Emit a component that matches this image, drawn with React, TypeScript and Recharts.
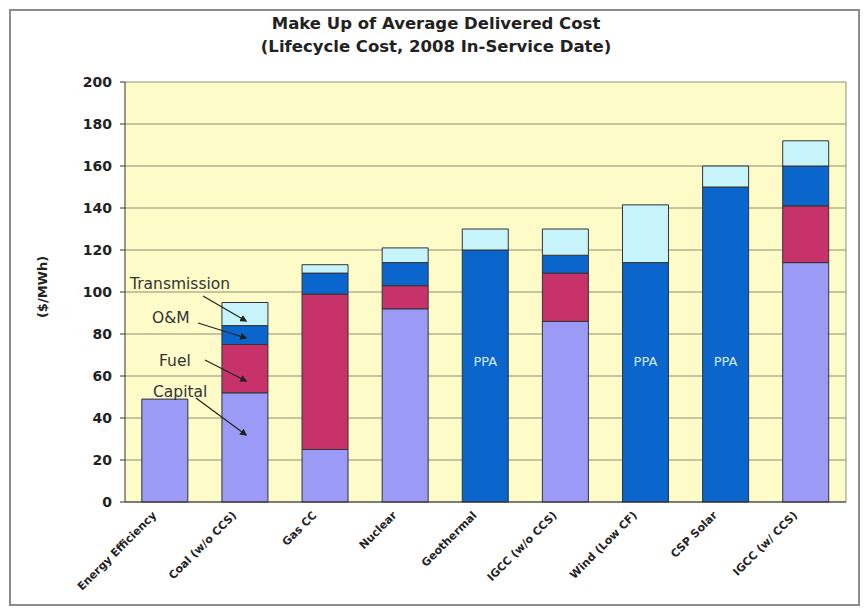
import React from "react"
import { BarChart, Bar, XAxis, YAxis, CartesianGrid, LabelList } from "recharts"

const categories = [
  "Energy Efficiency",
  "Coal (w/o CCS)",
  "Gas CC",
  "Nuclear",
  "Geothermal",
  "IGCC (w/o CCS)",
  "Wind (Low CF)",
  "CSP Solar",
  "IGCC (w/ CCS)",
]

// $/MWh components, stacked bottom to top
const capital = [49, 52, 25, 92, null, 86, null, null, 114]
const fuel = [null, 23, 74, 11, null, 23, null, null, 27]
const om = [null, 9, 10, 11, null, 8.5, null, null, 19]
const ppa = [null, null, null, null, 120, null, 114, 150, null]
const transmission = [null, 11, 4, 7, 10, 12.5, 27.5, 10, 12]

const yTicks = [0, 20, 40, 60, 80, 100, 120, 140, 160, 180, 200]

const data = categories.map((name, i) => ({
  name,
  capital: capital[i],
  fuel: fuel[i],
  om: om[i],
  ppa: ppa[i],
  transmission: transmission[i],
}))

const FONT = "'DejaVu Sans', Arial, sans-serif"

const XTick = (props: any) => {
  const { x, y, payload } = props
  const tx = x - 8
  const ty = y + 6
  return (
    <text
      x={tx}
      y={ty}
      transform={`rotate(-45, ${tx}, ${ty})`}
      textAnchor="end"
      fontSize={11}
      fontWeight="bold"
      fontFamily={FONT}
      fill="#222"
    >
      {payload.value}
    </text>
  )
}

const PpaLabel = (props: any) => {
  const { x, y, width, height } = props
  if (!height) return null
  return (
    <text
      x={x + width / 2}
      y={y + height - 136}
      textAnchor="middle"
      fontSize={13}
      fontFamily={FONT}
      fill="#d6ecff"
    >
      PPA
    </text>
  )
}

// callouts pointing at the segments of the coal bar
const callouts = [
  { text: "Transmission", tx: 130, ty: 289, x1: 203, y1: 296, x2: 246, y2: 321 },
  { text: "O&M", tx: 152, ty: 323, x1: 198, y1: 323, x2: 246, y2: 338 },
  { text: "Fuel", tx: 159, ty: 366, x1: 205, y1: 360, x2: 246, y2: 381 },
  { text: "Capital", tx: 153, ty: 397, x1: 196, y1: 398, x2: 246, y2: 435 },
]

export default function App() {
  return (
    <div style={{ position: "relative", width: 866, height: 608, background: "#fff", fontFamily: FONT }}>
      <style>{`body{margin:0}`}</style>
      <div
        style={{
          position: "absolute",
          left: 9,
          top: 9,
          width: 847,
          height: 593,
          border: "2px solid #8c8c8c",
        }}
      />
      <div
        style={{
          position: "absolute",
          left: 0,
          width: 872,
          top: 12,
          textAlign: "center",
          fontWeight: "bold",
          fontSize: 16.5,
          lineHeight: "23px",
          color: "#222",
        }}
      >
        <div>Make Up of Average Delivered Cost</div>
        <div>(Lifecycle Cost, 2008 In-Service Date)</div>
      </div>
      <div
        style={{
          position: "absolute",
          left: 42,
          top: 287,
          transform: "translate(-50%, -50%) rotate(-90deg)",
          fontWeight: "bold",
          fontSize: 13,
          color: "#222",
          whiteSpace: "nowrap",
        }}
      >
        ($/MWh)
      </div>
      <div style={{ position: "absolute", left: 0, top: 0 }}>
        <BarChart
          width={866}
          height={608}
          data={data}
          margin={{ top: 82, right: 20, bottom: 0, left: 65 }}
          barCategoryGap="21%"
        >
          <CartesianGrid
            fill="#fdfbc8"
            stroke="#8f8f78"
            vertical={true}
            verticalCoordinatesGenerator={({ offset }: any) => [offset.left + offset.width]}
          />
          <XAxis
            dataKey="name"
            tick={<XTick />}
            tickLine={false}
            axisLine={{ stroke: "#333" }}
            interval={0}
            height={106}
          />
          <YAxis
            domain={[0, 200]}
            ticks={yTicks}
            width={60}
            tickSize={5}
            tickMargin={8}
            axisLine={{ stroke: "#333" }}
            tickLine={{ stroke: "#333" }}
            tick={{ fontSize: 14, fontWeight: "bold", fontFamily: FONT, fill: "#222" }}
          />
          <Bar dataKey="capital" stackId="a" fill="#9b9bf7" stroke="#333" strokeWidth={1} isAnimationActive={false} />
          <Bar dataKey="fuel" stackId="a" fill="#c8326a" stroke="#333" strokeWidth={1} isAnimationActive={false} />
          <Bar dataKey="om" stackId="a" fill="#0a66cc" stroke="#333" strokeWidth={1} isAnimationActive={false} />
          <Bar dataKey="ppa" stackId="a" fill="#0a66cc" stroke="#333" strokeWidth={1} isAnimationActive={false}>
            <LabelList dataKey="ppa" content={<PpaLabel />} />
          </Bar>
          <Bar dataKey="transmission" stackId="a" fill="#c6f4fa" stroke="#333" strokeWidth={1} isAnimationActive={false} />
        </BarChart>
      </div>
      <svg
        width={866}
        height={608}
        style={{ position: "absolute", left: 0, top: 0, pointerEvents: "none" }}
      >
        <defs>
          <marker id="arrow" viewBox="0 0 10 10" refX="8" refY="5" markerWidth="6" markerHeight="6" orient="auto">
            <path d="M0,0 L10,5 L0,10 z" fill="#222" />
          </marker>
        </defs>
        {callouts.map((c) => (
          <g key={c.text}>
            <text x={c.tx} y={c.ty} fontSize={15.5} fontFamily={FONT} fill="#333">
              {c.text}
            </text>
            <line x1={c.x1} y1={c.y1} x2={c.x2} y2={c.y2} stroke="#222" strokeWidth={1.2} markerEnd="url(#arrow)" />
          </g>
        ))}
      </svg>
    </div>
  )
}
